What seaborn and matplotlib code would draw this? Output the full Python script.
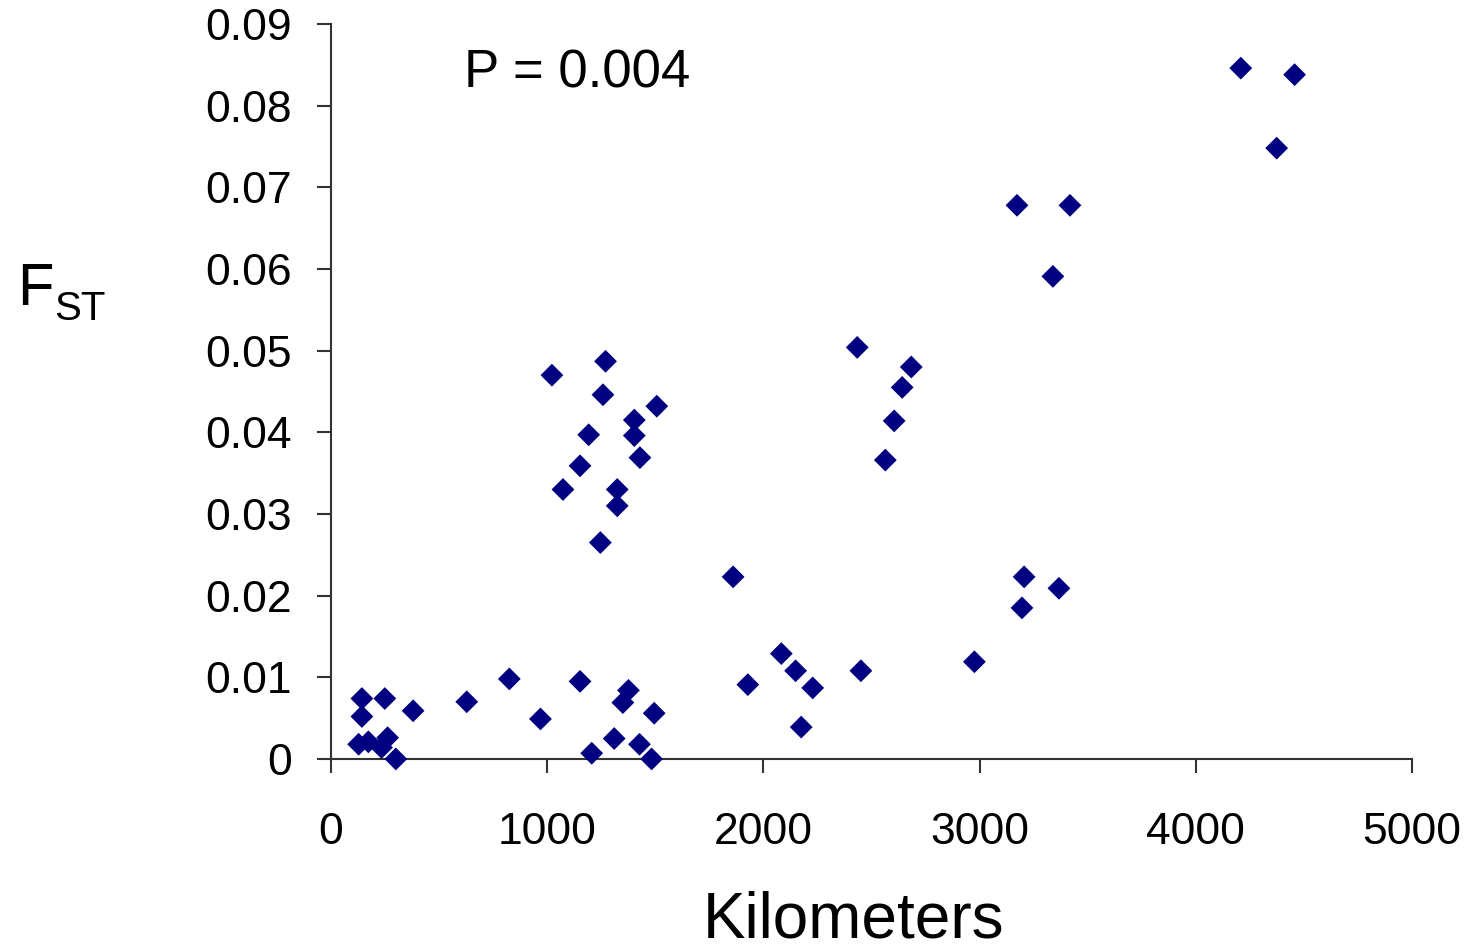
import matplotlib
matplotlib.use('Agg')
import matplotlib.pyplot as plt
import seaborn as sns
import pandas as pd

# pairwise distances (km) and FST values
km = [4208, 4457, 4374, 3173, 3418, 3339, 2434, 2684, 2642, 2605, 2564,
      1270, 1022, 1258, 1507, 1403, 1403, 1192, 1429, 1152, 1073, 1324, 1324, 1246,
      1860, 2083, 2149, 1928, 2228, 2451, 2175, 2976,
      3206, 3196, 3367,
      143, 249, 143, 380, 628, 825, 1152, 969, 1376, 1350, 1495, 1310, 1427, 1206,
      1483, 300, 128, 173, 234, 262]
fst = [0.0846, 0.0838, 0.0748, 0.0678, 0.0678, 0.0591, 0.0504, 0.0480, 0.0455, 0.0414, 0.0366,
       0.0487, 0.0470, 0.0446, 0.0432, 0.0415, 0.0396, 0.0397, 0.0369, 0.0359, 0.0330, 0.0330, 0.0310, 0.0265,
       0.0223, 0.0129, 0.0108, 0.0091, 0.0087, 0.0108, 0.0039, 0.0119,
       0.0223, 0.0185, 0.0209,
       0.0074, 0.0074, 0.0052, 0.0059, 0.0070, 0.0098, 0.0095, 0.0049, 0.0084, 0.0069, 0.0056, 0.0025, 0.0018, 0.0007,
       0.0000, 0.0000, 0.0018, 0.0021, 0.0014, 0.0026]

x_ticks = [0, 1000, 2000, 3000, 4000, 5000]
y_ticks = [0, 0.01, 0.02, 0.03, 0.04, 0.05, 0.06, 0.07, 0.08, 0.09]
y_labels = ['0', '0.01', '0.02', '0.03', '0.04', '0.05', '0.06', '0.07', '0.08', '0.09']

df = pd.DataFrame({'km': km, 'fst': fst})

sns.set_style('ticks')
plt.rcParams['font.family'] = ['Liberation Sans', 'DejaVu Sans']
plt.rcParams['text.color'] = 'black'

fig = plt.figure(figsize=(14.69, 9.5), dpi=100)
ax = fig.add_axes([0.2253, 0.2011, 0.9612 - 0.2253, 0.9747 - 0.2011])

sns.scatterplot(data=df, x='km', y='fst', marker='D', s=135, color='#000080',
                edgecolor='none', linewidth=0, ax=ax, clip_on=False, zorder=3)

ax.set_xlim(0, 5000)
ax.set_ylim(0, 0.09)
ax.set_xticks(x_ticks)
ax.set_xticklabels([str(t) for t in x_ticks])
ax.set_yticks(y_ticks)
ax.set_yticklabels(y_labels)
ax.set_xlabel('')
ax.set_ylabel('')

for side in ['top', 'right']:
    ax.spines[side].set_visible(False)
for side in ['left', 'bottom']:
    ax.spines[side].set_color('#333333')
    ax.spines[side].set_linewidth(1.5)
ax.tick_params(axis='both', direction='out', length=10, width=1.5, color='#333333',
               labelsize=32, labelcolor='black')
ax.tick_params(axis='x', pad=28)
ax.tick_params(axis='y', pad=18)

# axis titles and annotation
fig.text(853 / 1469, 1 - 920 / 950, 'Kilometers', fontsize=46, ha='center', va='center')
fig.text(17 / 1469, 1 - 305 / 950, 'F', fontsize=43, ha='left', va='baseline')
fig.text(54 / 1469, 1 - 320 / 950, 'ST', fontsize=29, ha='left', va='baseline')
fig.text(464 / 1469, 1 - 87 / 950, 'P = 0.004', fontsize=38, ha='left', va='baseline')

fig.savefig('out.png', dpi=100)
